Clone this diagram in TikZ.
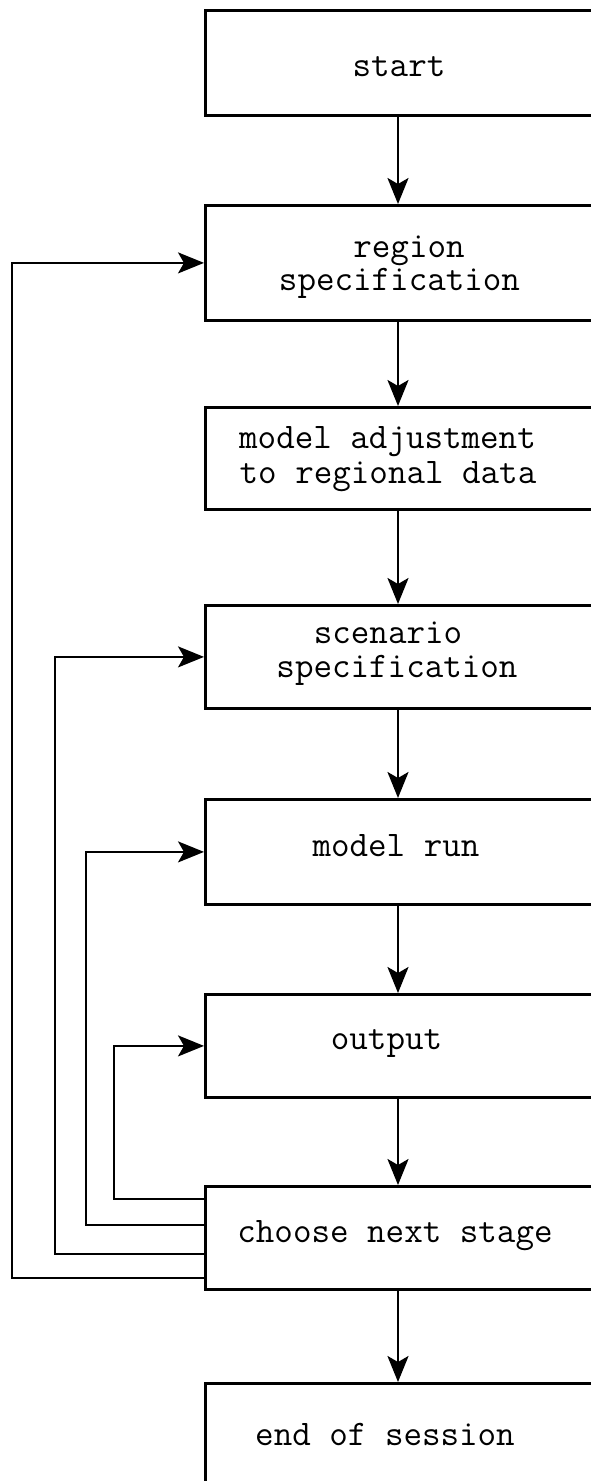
\documentclass[tikz,border=0pt]{standalone}
\usepackage{fontspec}
\usetikzlibrary{arrows.meta}
\begin{document}
\begin{tikzpicture}[x=1pt,y=-1pt,
  box/.style={draw, line width=2.8pt, minimum width=400pt, anchor=north west, inner sep=0pt},
  txt/.style={font=\ttfamily\fontsize{36}{40}\selectfont, anchor=base, inner sep=0pt},
  tip/.style={-{Stealth[length=26pt,width=21pt,inset=6pt]}},
  flow/.style={tip, line width=2.4pt},
  back/.style={tip, line width=2.2pt}]
\useasboundingbox (0,0) rectangle (591,1481);
\clip (0,0) rectangle (591,1481);
\coordinate (ax) at (398,0);
% boxes
\node[box, minimum height=105pt] (start) at (204,9) {};
\node[box, minimum height=115pt] (region) at (204,204) {};
\node[box, minimum height=102pt] (adjust) at (204,406) {};
\node[box, minimum height=103pt] (scenario) at (204,604) {};
\node[box, minimum height=105pt] (run) at (204,798) {};
\node[box, minimum height=103pt] (output) at (204,993) {};
\node[box, minimum height=103pt] (choose) at (204,1185) {};
\node[box, minimum height=200pt] (end) at (204,1382) {};
% texts
\node[txt] (t1) at (399,76) {start};
\node[txt] (t2a) at (409,257) {region};
\node[txt] (t2b) at (399.5,290) {specification};
\node[txt] (t3a) at (387.5,448) {model adjustment};
\node[txt] (t3b) at (388,483) {to regional data};
\node[txt] (t4a) at (388,643) {scenario};
\node[txt] (t4b) at (397,677) {specification};
\node[txt] (t5) at (396,856) {model run};
\node[txt] (t6) at (386.5,1049) {output};
\node[txt] (t7) at (395,1242) {choose next stage};
\node[txt] (t8) at (385,1445) {end of session};
% main flow
\draw[flow] (start.south -| ax) -- (region.north -| ax);
\draw[flow] (region.south -| ax) -- (adjust.north -| ax);
\draw[flow] (adjust.south -| ax) -- (scenario.north -| ax);
\draw[flow] (scenario.south -| ax) -- (run.north -| ax);
\draw[flow] (run.south -| ax) -- (output.north -| ax);
\draw[flow] (output.south -| ax) -- (choose.north -| ax);
\draw[flow] (choose.south -| ax) -- (end.north -| ax);
% feedback loops
\draw[back] ([yshift=-14pt]choose.north west) -| ([xshift=-90pt]output.west) -- (output.west);
\draw[back] ([yshift=-40pt]choose.north west) -| ([xshift=-118pt]run.west) -- (run.west);
\draw[back] ([yshift=-69pt]choose.north west) -| ([xshift=-149pt]scenario.west) -- (scenario.west);
\draw[back] ([yshift=-93pt]choose.north west) -| ([xshift=-192pt]region.west) -- (region.west);
\end{tikzpicture}
\end{document}
